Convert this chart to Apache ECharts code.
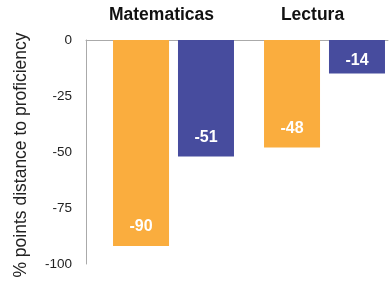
<!DOCTYPE html>
<html lang="en">
<head>
<meta charset="UTF-8">
<title>distance to proficiency</title>
<script src="https://cdn.jsdelivr.net/npm/echarts@6/dist/echarts.min.js"></script>
<style>
  html, body { margin: 0; padding: 0; background: #fff; }
  #chart { width: 390px; height: 285px; }
</style>
</head>
<body>
<div id="chart"></div>
<script type="text/javascript">
var categories = ['Matematicas', 'Lectura'];
var yTicks = [0, -25, -50, -75, -100];
// bar lengths
var orangeValues = [-92, -48];
var navyValues = [-52, -15];
// printed labels
var orangeLabels = ['-90', '-48'];
var navyLabels = ['-51', '-14'];

var myChart = echarts.init(document.getElementById('chart'));

function barLabel(texts) {
  return {
    show: true,
    position: 'insideBottom',
    distance: 11,
    color: '#fff',
    fontWeight: 'bold',
    fontSize: 16,
    fontFamily: 'Liberation Sans, Arial, sans-serif',
    formatter: function(p) { return texts[p.dataIndex]; }
  };
}

// short bars get their label closer to the end
function barData(values) {
  return values.map(function(v) {
    if (Math.abs(v) < 20) return { value: v, label: { distance: 5 } };
    return v;
  });
}

var option = {
  animation: false,
  textStyle: { fontFamily: 'Liberation Sans, Arial, sans-serif' },
  grid: { left: 86, right: 2, top: 40, bottom: 21 },
  xAxis: {
    type: 'category',
    position: 'top',
    data: categories,
    axisLine: { lineStyle: { color: '#aaa', width: 1 } },
    axisTick: { show: false },
    axisLabel: { margin: 16, color: '#111', fontWeight: 'bold', fontSize: 17.5 }
  },
  yAxis: {
    type: 'value',
    min: -100,
    max: 0,
    interval: 25,
    name: '% points distance to proficiency',
    nameLocation: 'middle',
    nameGap: 56,
    nameTextStyle: { fontSize: 17.5, color: '#222', padding: [0, 6, 0, 0] },
    axisLine: { show: true, lineStyle: { color: '#aaa', width: 1 } },
    axisTick: { show: false },
    splitLine: { show: false },
    axisLabel: {
      margin: 14,
      color: '#222',
      fontSize: 13.5,
      formatter: function(v) { return yTicks.indexOf(v) >= 0 ? String(v) : ''; }
    }
  },
  series: [{
    // empty slot that pushes the bars to the right side of each band
    type: 'bar',
    data: [],
    barWidth: 20.7,
    barGap: '16%',
    silent: true
  }, {
    type: 'bar',
    data: barData(orangeValues),
    itemStyle: { color: '#FAAD3E' },
    barWidth: 56,
    barGap: '16%',
    label: barLabel(orangeLabels)
  }, {
    type: 'bar',
    data: barData(navyValues),
    itemStyle: { color: '#474C9E' },
    barWidth: 56,
    barGap: '16%',
    label: barLabel(navyLabels)
  }]
};

myChart.setOption(option);
</script>
</body>
</html>
